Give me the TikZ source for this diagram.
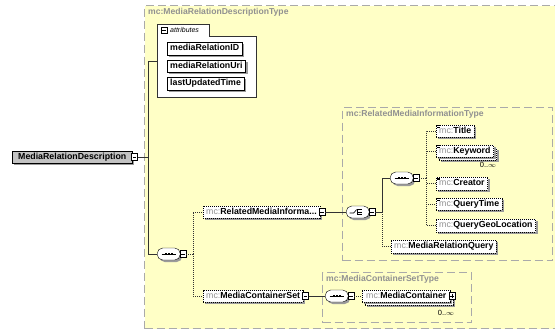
\documentclass[tikz,border=0pt]{standalone}
\usepackage{fontspec}
\setmainfont{Liberation Sans}
\usetikzlibrary{shadows}

\definecolor{typefill}{RGB}{255,255,198}
\definecolor{typeline}{RGB}{170,170,170}
\definecolor{prefixgray}{RGB}{145,145,145}
\definecolor{shade}{RGB}{155,155,155}
\definecolor{rootfill}{RGB}{195,195,195}
\definecolor{linecol}{RGB}{50,50,50}

\newcommand\pfx{\textcolor{prefixgray}{\mdseries mc:}}
\newcommand\lbl{\fontsize{8.8}{9}\selectfont\bfseries}

% small icons drawn on top of compositor nodes
\newcommand\seqicon[1]{%
  \draw[line width=0.7pt,shift={(#1.center)}] (-7,0) -- (7,0);
  \foreach \dx in {-3,0,3}
    \fill[shift={(#1.center)}] (\dx-1,-1) rectangle (\dx+1,1);}
\newcommand\choiceicon[1]{%
  \begin{scope}[shift={(#1.center)},line width=0.6pt]
    \draw (-8,1) -- (-4,1) -- (-1,-2.5);
    \draw (0,-3) -- (0,3);
    \draw (0,-2.5) -- (4,-2.5) (0,0) -- (4,0) (0,2.5) -- (4,2.5);
  \end{scope}}

\tikzset{
  conn/.style={draw=linecol,line width=0.6pt},
  optconn/.style={draw=linecol,line width=0.6pt,dash pattern=on 1pt off 1pt},
  shadowed/.style={drop shadow={shadow xshift=2pt,shadow yshift=-2pt,fill=shade,opacity=1}},
  el/.style={draw=black,fill=white,font=\lbl,inner xsep=3pt,inner ysep=0pt,
    minimum height=12.5pt,text height=6.4pt,text depth=1.6pt,anchor=west,shadowed},
  optel/.style={el,dash pattern=on 1pt off 1pt},
  attrel/.style={el,anchor=north west,minimum height=12.5pt},
  comp/.style={draw=black,fill=white,rounded corners=5.5pt,minimum width=23pt,
    minimum height=12pt,inner sep=0pt,anchor=west,shadowed},
  pmbox/.style={draw=black,fill=white,minimum width=6pt,minimum height=7pt,
    inner sep=0pt,anchor=west},
  minusbox/.style={pmbox,path picture={\draw[line width=0.5pt]
      ([xshift=1.2pt]path picture bounding box.west) --
      ([xshift=-1.2pt]path picture bounding box.east);}},
  plusbox/.style={pmbox,path picture={\draw[line width=0.5pt]
      ([xshift=1.2pt]path picture bounding box.west) --
      ([xshift=-1.2pt]path picture bounding box.east)
      ([yshift=-1.2pt]path picture bounding box.north) --
      ([yshift=1.2pt]path picture bounding box.south);}},
  typebox/.style={draw=typeline,fill=typefill,line width=1.1pt,
    dash pattern=on 8pt off 4pt,anchor=north west,inner sep=0pt},
  typetitle/.style={anchor=north west,inner sep=0pt,text=prefixgray,
    font=\fontsize{8.6}{9}\selectfont\bfseries},
  occurs/.style={inner sep=0pt,font=\fontsize{7.5}{8}\selectfont}
}

\begin{document}
\begin{tikzpicture}[x=1pt,y=-1pt]
\useasboundingbox (0,0) rectangle (555,330);
\clip (0,0) rectangle (555,330);

% complex type of the root element
\node[typebox,minimum width=425pt,minimum height=323pt] (mrdtype) at (144,5) {};
\node[typetitle] (mrdtitle) at (148,8) {mc:MediaRelationDescriptionType};

% attribute group
\draw[draw=linecol,fill=white,line width=0.6pt]
  (157,97) -- (157,24) -- (209,24) -- (209,36) -- (256,36) -- (256,97) -- cycle;
\node[inner sep=0pt,anchor=north west] (attrbody) at (157,36) {};
\node[draw=black,fill=white,minimum width=6pt,minimum height=6pt,inner sep=0pt,
  path picture={\draw[line width=0.5pt]
      ([xshift=1.2pt]path picture bounding box.west) --
      ([xshift=-1.2pt]path picture bounding box.east);}] (attrtoggle) at (164,30) {};
\node[anchor=west,inner sep=0pt,font=\fontsize{7}{8}\selectfont\itshape] (attrtab) at (170,30) {attributes};
\node[attrel] (a1) at (167,42) {mediaRelationID};
\node[attrel] (a2) at (167,59.5) {mediaRelationUri};
\node[attrel] (a3) at (167,77) {lastUpdatedTime};

% root element
\node[el,fill=rootfill,inner xsep=6pt,minimum height=12.5pt] (root) at (12,157) {MediaRelationDescription};
\node[minusbox] (rootpm) at ([xshift=-1pt]root.east) {};

% nested complex types
\node[typebox,minimum width=210pt,minimum height=153pt] (rmitype) at (342,107) {};
\node[typetitle] (rmititle) at (346,110) {mc:RelatedMediaInformationType};
\node[typebox,minimum width=149pt,minimum height=50pt] (mcstype) at (322,272) {};
\node[typetitle] (mcstitle) at (326,275) {mc:MediaContainerSetType};

% top-level sequence
\node[comp] (seq1) at (157,254) {};
\node[minusbox] (seq1pm) at ([xshift=-0.5pt]seq1.east) {};

\node[optel] (rmi) at (203,212) {\pfx RelatedMediaInforma...};
\node[minusbox] (rmipm) at ([xshift=-1pt]rmi.east) {};
\node[optel] (mcs) at (203,296) {\pfx MediaContainerSet};
\node[minusbox] (mcspm) at ([xshift=-1pt]mcs.east) {};

% choice inside RelatedMediaInformationType
\node[comp] (choice) at (346,212) {};
\node[minusbox] (choicepm) at ([xshift=-0.5pt]choice.east) {};
\node[comp] (seq2) at (390,178) {};
\node[minusbox] (seq2pm) at ([xshift=-0.5pt]seq2.east) {};

\node[optel] (title) at (436,131) {\pfx Title};
\node[optel] (kwback) at (439,154) {\phantom{\pfx Keyword}};
\node[optel] (kw) at (436,151) {\pfx Keyword};
\node[occurs] (kwocc) at (488,165) {0..\(\infty\)};
\node[optel] (creator) at (436,183.5) {\pfx Creator};
\node[optel] (qtime) at (436,204) {\pfx QueryTime};
\node[optel] (qgeo) at (436,225.5) {\pfx QueryGeoLocation};
\node[optel] (mrq) at (391,246.5) {\pfx MediaRelationQuery};

% small reference marks on the first four children
\foreach \n in {title,kw,creator,qtime}
  \draw[line width=0.5pt] ([shift={(1,1)}]\n.north west) -- ++(3,0)
                          ([shift={(1,2.3)}]\n.north west) -- ++(3,0);

% sequence inside MediaContainerSetType
\node[comp] (seq3) at (325,296) {};
\node[minusbox] (seq3pm) at ([xshift=-0.5pt]seq3.east) {};
\node[optel,inner xsep=4pt] (mcback) at (365,299) {\phantom{\pfx MediaContainer}};
\node[optel,inner xsep=4pt] (mc) at (362,296) {\pfx MediaContainer};
\node[plusbox] (mcpm) at ([xshift=-2pt]mc.east) {};
\node[occurs] (mcocc) at (446,313) {0..\(\infty\)};

\seqicon{seq1}
\seqicon{seq2}
\seqicon{seq3}
\choiceicon{choice}

% connectors
\coordinate (b0) at (148,157);
\coordinate (attrin) at (157,61);
\coordinate (b1) at (193,254);
\coordinate (b2) at (382,212);
\coordinate (b3) at (426,178);
\draw[conn] (rootpm.east) -- (b0);
\draw[conn] (b0) |- (attrin);
\draw[conn] (b0) |- (seq1.west);
\draw[optconn] (seq1pm.east) -- (b1);
\draw[optconn] (b1) |- (rmi.west);
\draw[optconn] (b1) |- (mcs.west);
\draw[conn] (rmipm.east) -- (choice.west);
\draw[conn] (choicepm.east) -- (b2);
\draw[conn] (b2) |- (seq2.west);
\draw[optconn] (b2) |- (mrq.west);
\draw[optconn] (seq2pm.east) -- (b3);
\foreach \n in {title,kw,creator,qtime,qgeo}
  \draw[optconn] (b3) |- (\n.west);
\draw[conn] (mcspm.east) -- (seq3.west);
\draw[optconn] (seq3pm.east) -- (mc.west);
\end{tikzpicture}
\end{document}
